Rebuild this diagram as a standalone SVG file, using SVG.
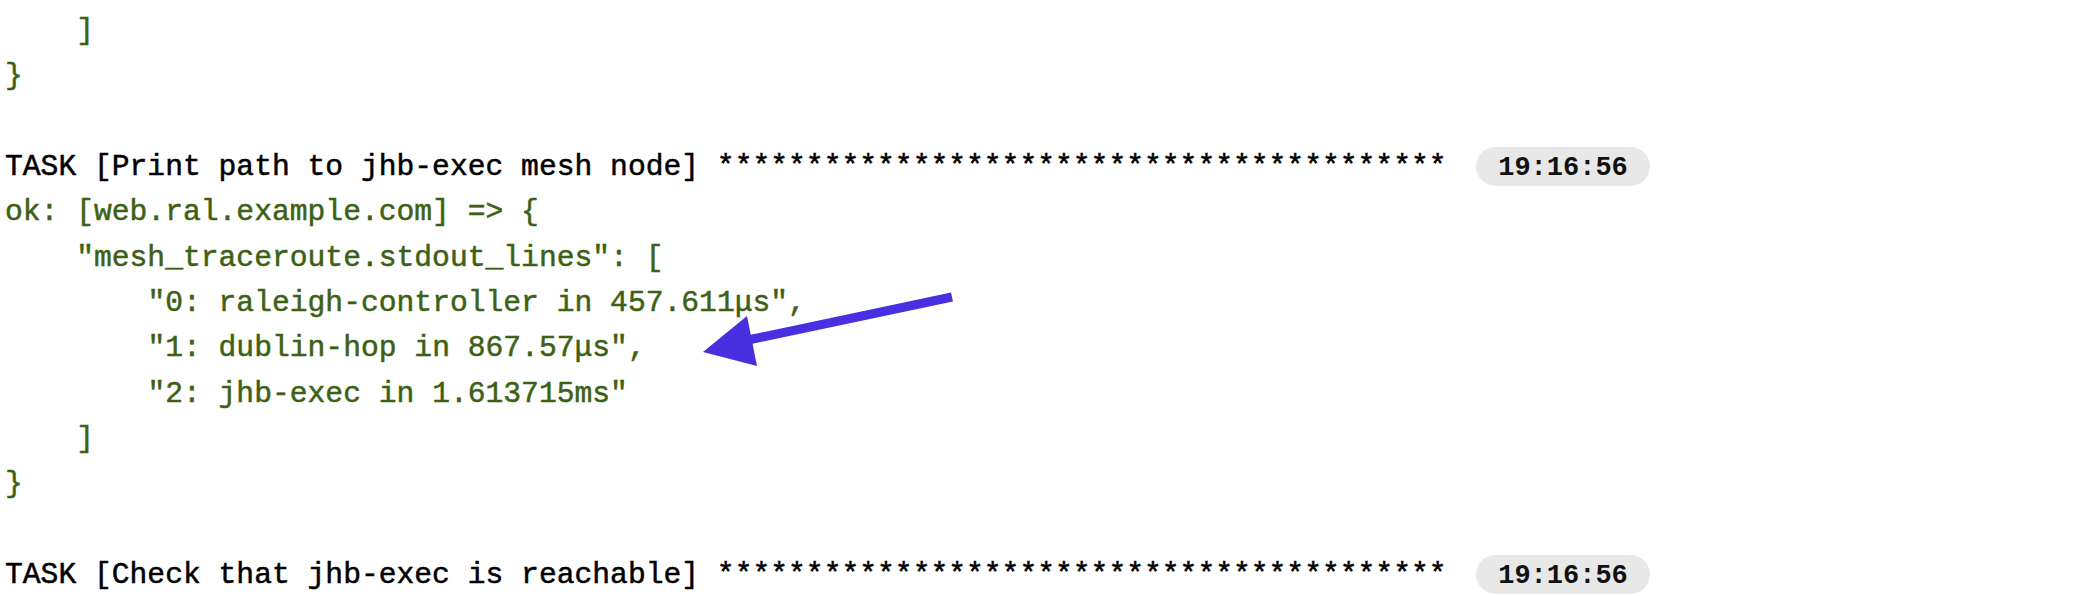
<svg xmlns="http://www.w3.org/2000/svg" width="2094" height="596" viewBox="0 0 2094 596">
<style>
.t{font-family:"Liberation Mono","DejaVu Sans Mono",monospace;font-size:29.67px;white-space:pre;stroke-width:0.5px}
.g{fill:#3d6114;stroke:#3d6114}
.k{fill:#000;stroke:#000}
.pill{fill:#e8e8e8}
.ts{font-family:"Liberation Mono","DejaVu Sans Mono",monospace;font-size:27px;font-weight:bold;fill:#111;text-anchor:middle}
</style>
<rect width="2094" height="596" fill="#fff"/>
<g id="log">
<text class="t g" x="76.2" y="39">]</text>
<text class="t g" x="5" y="84.3">}</text>
<text class="t k" x="5" y="175">TASK [Print path to jhb-exec mesh node] *****************************************</text>
<text class="t g" x="5" y="220.3">ok: [web.ral.example.com] =&gt; {</text>
<text class="t g" x="76.2" y="265.7">"mesh_traceroute.stdout_lines": [</text>
<text class="t g" x="147.4" y="311">"0: raleigh-controller in 457.611μs",</text>
<text class="t g" x="147.4" y="356.3">"1: dublin-hop in 867.57μs",</text>
<text class="t g" x="147.4" y="401.7">"2: jhb-exec in 1.613715ms"</text>
<text class="t g" x="76.2" y="447">]</text>
<text class="t g" x="5" y="492.3">}</text>
<text class="t k" x="5" y="583">TASK [Check that jhb-exec is reachable] *****************************************</text>
</g>
<g id="time1">
<rect class="pill" x="1476" y="147" width="174" height="39" rx="19.5"/>
<text class="ts" x="1563" y="175">19:16:56</text>
</g>
<g id="time2">
<rect class="pill" x="1476" y="555" width="174" height="39" rx="19.5"/>
<text class="ts" x="1563" y="583">19:16:56</text>
</g>
<g id="connectors">
<line x1="952" y1="297" x2="748" y2="340" stroke="#482fe0" stroke-width="9"/>
<polygon points="703,352 747,316 757,366" fill="#482fe0"/>
</g>
</svg>
